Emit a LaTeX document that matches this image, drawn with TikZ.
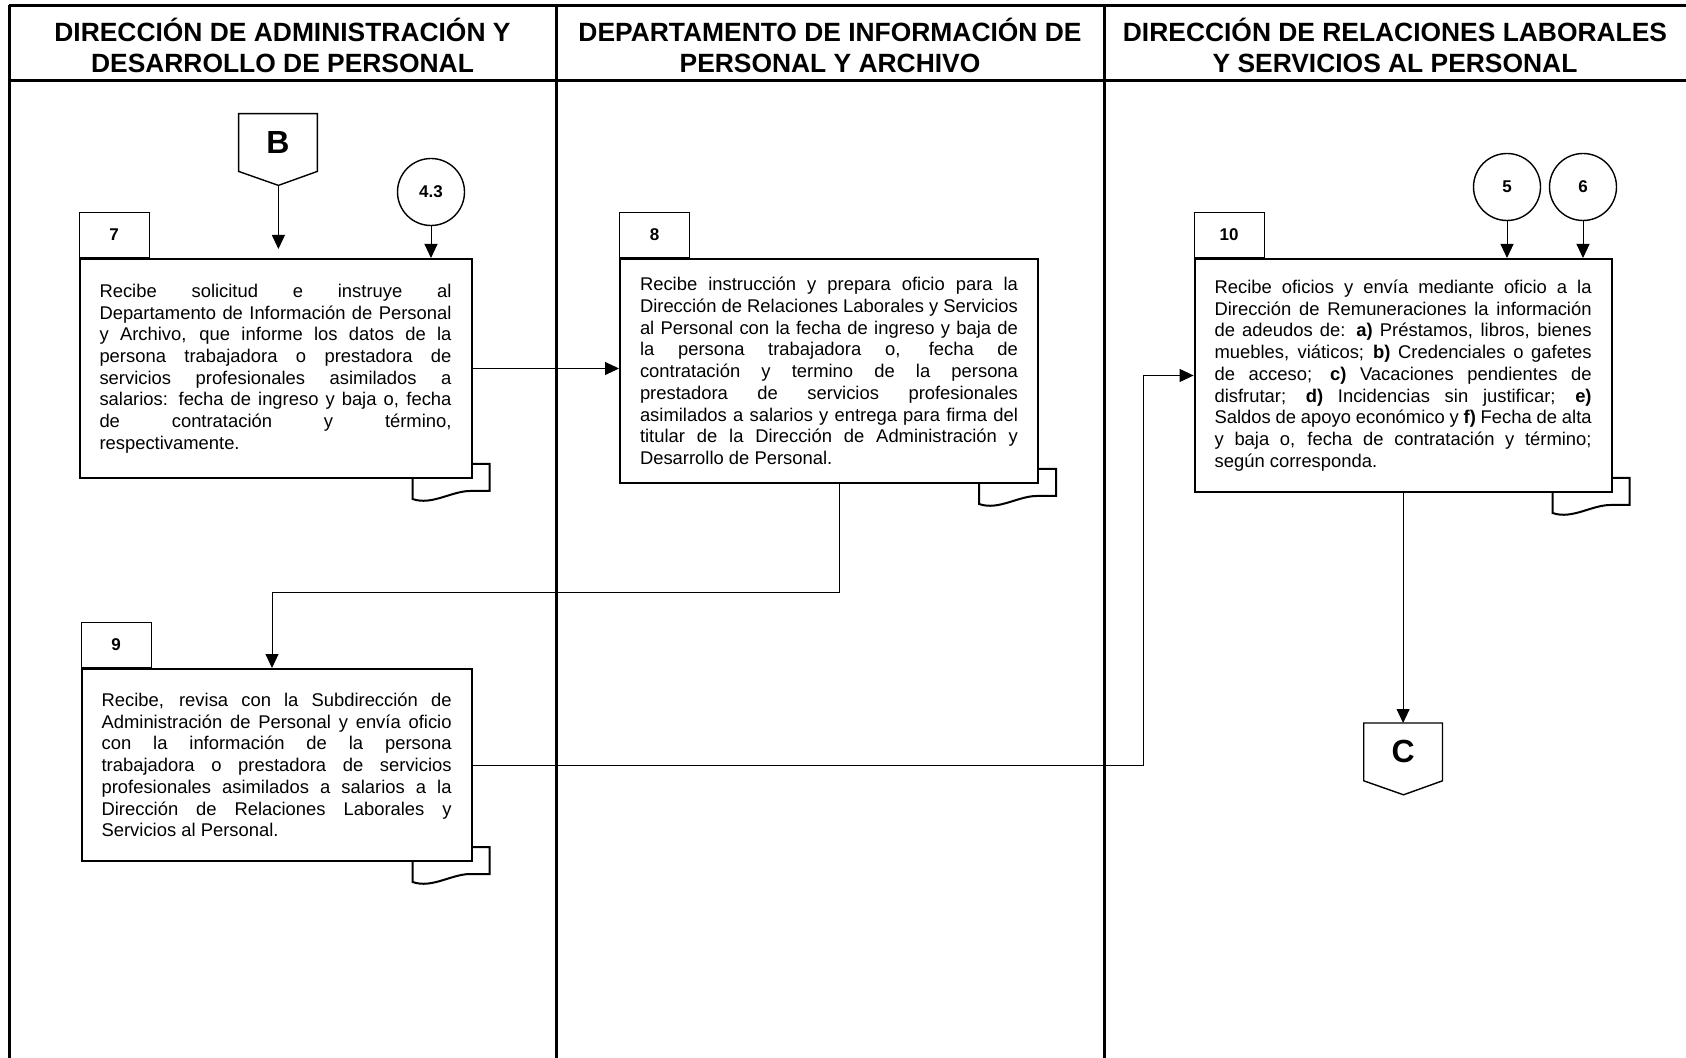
\documentclass[tikz,border=0pt]{standalone}
\usepackage{fontspec}
\setmainfont{Liberation Sans}
\usetikzlibrary{arrows.meta,positioning}
\hyphenpenalty=10000
\exhyphenpenalty=10000

\begin{document}
\begin{tikzpicture}[x=0.5pt, y=-0.5pt,
        lane/.style={line width=1.5pt},
        lanetitle/.style={align=center, font=\fontsize{13.2}{15.5}\selectfont\bfseries},
        stepbox/.style={draw, line width=1pt, fill=white, align=justify, inner xsep=10pt, inner ysep=0pt,
            anchor=north west, font=\fontsize{9.2}{10.85}\selectfont},
        numtab/.style={draw, line width=0.5pt, minimum width=35pt, minimum height=22.5pt, inner sep=0pt,
            font=\fontsize{8.5}{10}\selectfont\bfseries},
        connector/.style={circle, draw, line width=0.7pt, minimum size=33.5pt, inner sep=0pt,
            font=\fontsize{8.5}{10}\selectfont\bfseries},
        offpage/.style={minimum width=39pt, minimum height=28.5pt, inner sep=0pt,
            font=\fontsize{16}{18}\selectfont\bfseries},
        flow/.style={line width=0.5pt, -{Triangle[length=7pt,width=6.5pt]}},
        docwave/.style={line width=1pt}]
        \useasboundingbox (0,0) rectangle (1686,1058);

        % Lanes
        \draw[lane] (9,5.5) -- (1686,5.5);
        \draw[lane] (9,80.5) -- (1686,80.5);
        \foreach \x in {9,556,1104}
            \draw[lane] (\x,5.5) -- (\x,1058);
        \node[lanetitle] (hdadm) at (282.5,45) {DIRECCIÓN DE ADMINISTRACIÓN Y\\DESARROLLO DE PERSONAL};
        \node[lanetitle] (hdinf) at (830,45) {DEPARTAMENTO DE INFORMACIÓN DE\\PERSONAL Y ARCHIVO};
        \node[lanetitle] (hdrel) at (1395,45) {DIRECCIÓN DE RELACIONES LABORALES\\Y SERVICIOS AL PERSONAL};

        % Place nodes
        \node[stepbox, text width=176pt, minimum height=109.5pt] (s7) at (78.5,258)
            {Recibe solicitud e instruye al\linebreak
            Departamento de Información de Personal\linebreak
            y Archivo, que informe los datos de la\linebreak
            persona trabajadora o prestadora de\linebreak
            servicios profesionales asimilados a\linebreak
            salarios: fecha de ingreso y baja o, fecha\linebreak
            de contratación y término,\linebreak
            respectivamente.};
        \node[stepbox, text width=189pt, minimum height=112pt] (s8) at (619,258)
            {Recibe instrucción y prepara oficio para la\linebreak
            Dirección de Relaciones Laborales y Servicios\linebreak
            al Personal con la fecha de ingreso y baja de\linebreak
            la persona trabajadora o, fecha de\linebreak
            contratación y termino de la persona\linebreak
            prestadora de servicios profesionales\linebreak
            asimilados a salarios y entrega para firma del\linebreak
            titular de la Dirección de Administración y\linebreak
            Desarrollo de Personal.};
        \node[stepbox, text width=175pt, minimum height=96pt] (s9) at (80.6,668)
            {Recibe, revisa con la Subdirección de\linebreak
            Administración de Personal y envía oficio\linebreak
            con la información de la persona\linebreak
            trabajadora o prestadora de servicios\linebreak
            profesionales asimilados a salarios a la\linebreak
            Dirección de Relaciones Laborales y\linebreak
            Servicios al Personal.};
        \node[stepbox, text width=188.5pt, minimum height=116.5pt] (s10) at (1193.6,258)
            {Recibe oficios y envía mediante oficio a la\linebreak
            Dirección de Remuneraciones la información\linebreak
            de adeudos de: \textbf{a)} Préstamos, libros, bienes\linebreak
            muebles, viáticos; \textbf{b)} Credenciales o gafetes\linebreak
            de acceso; \textbf{c)} Vacaciones pendientes de\linebreak
            disfrutar; \textbf{d)} Incidencias sin justificar; \textbf{e)}\linebreak
            Saldos de apoyo económico y \textbf{f)} Fecha de alta\linebreak
            y baja o, fecha de contratación y término;\linebreak
            según corresponda.};

        \foreach \b in {s7,s8,s9,s10}
            \draw[docwave, shift={(\b.south east)}] (-60,0) -- (-60,20)
                .. controls (-40,27) and (-20,11) .. (0,12) -- (17,12) -- (17,-15) -- (0,-15);

        \node[numtab, above right=0pt and 0pt of s7.north west] (t7) {7};
        \node[numtab, above right=0pt and 0pt of s8.north west] (t8) {8};
        \node[numtab, above right=0pt and 0pt of s9.north west] (t9) {9};
        \node[numtab, above right=0pt and 0pt of s10.north west] (t10) {10};

        \node[connector] (c43) at (431,192) {4.3};
        \node[connector] (c5) at (1507,187) {5};
        \node[connector] (c6) at (1583,187) {6};

        \node[offpage] (offB) at (278,142.5) {B};
        \draw[line width=0.7pt] (offB.south west) -- (offB.north west) -- (offB.north east)
            -- (offB.south east) -- ++(-39,14) coordinate (offBtip) -- cycle;
        \node[offpage, below=115pt of s10] (offC) {C};
        \draw[line width=0.7pt] (offC.south west) -- (offC.north west) -- (offC.north east)
            -- (offC.south east) -- ++(-39,14) coordinate (offCtip) -- cycle;

        \coordinate (bend89) at (272,592.5);

        % Draw edges
        \draw[flow, shorten >=4.5pt] (offBtip) -- (offBtip |- s7.north);
        \draw[flow] (c43) -- (c43 |- s7.north);
        \draw[flow] (s7.east) -- (s7.east -| s8.west);
        \draw[flow] ([xshift=5pt]s8.south) |- (bend89) -- (bend89 |- s9.north);
        \draw[flow] (s9.east) -| ([xshift=-25pt]s10.west) -- (s10.west);
        \draw[flow] (c5) -- (c5 |- s10.north);
        \draw[flow] (c6) -- (c6 |- s10.north);
        \draw[flow] (s10) -- (offC);
\end{tikzpicture}
\end{document}
